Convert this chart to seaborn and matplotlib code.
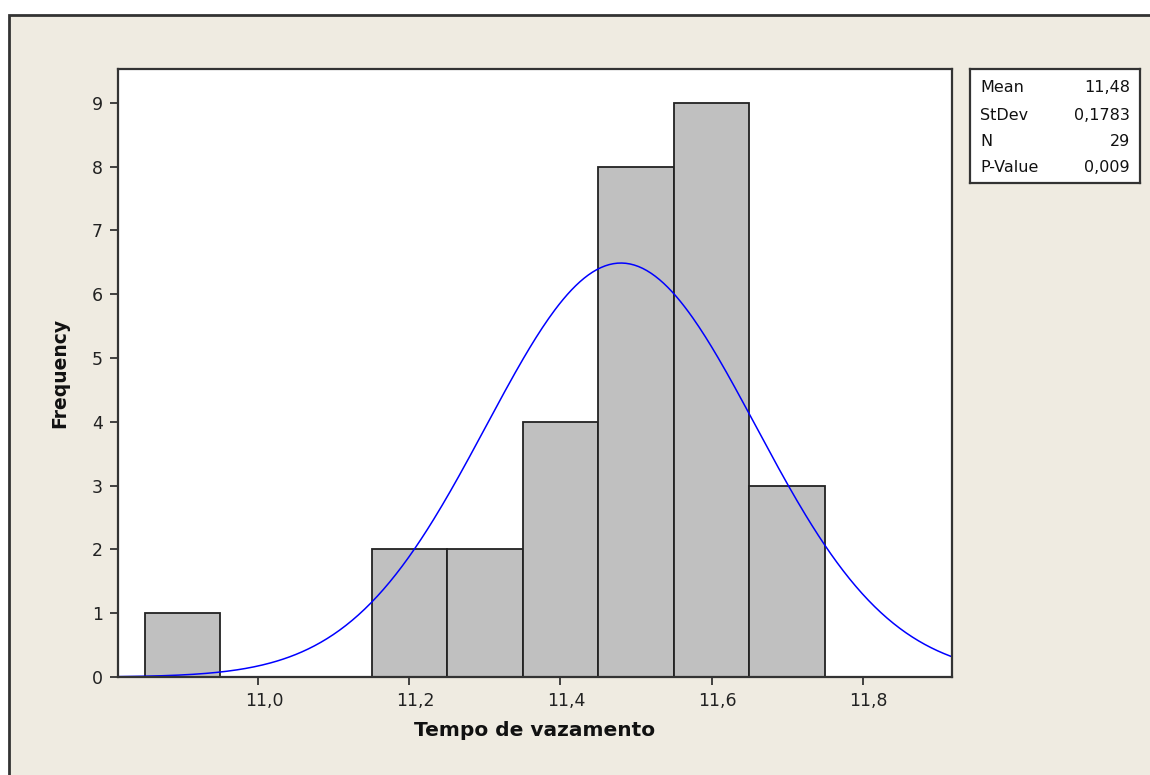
import numpy as np
import pandas as pd
import matplotlib
matplotlib.use("Agg")
import matplotlib.pyplot as plt
import matplotlib.transforms as mtransforms
import seaborn as sns
from matplotlib.patches import Rectangle

# ---- data ----
bin_centers = [10.9, 11.0, 11.1, 11.2, 11.3, 11.4, 11.5, 11.6, 11.7]
bin_counts = [1, 0, 0, 2, 2, 4, 8, 9, 3]
bin_width = 0.1
mean_val = 11.48
stdev_val = 0.1783
n_val = 29
p_value = 0.009
x_ticks = [11.0, 11.2, 11.4, 11.6, 11.8]
x_tick_labels = ["11,0", "11,2", "11,4", "11,6", "11,8"]
y_ticks = [0, 1, 2, 3, 4, 5, 6, 7, 8, 9]
stat_names = ["Mean", "StDev", "N", "P-Value"]
stat_values = ["11,48", "0,1783", "29", "0,009"]

sns.set_theme(style="white")
plt.rcParams['font.family'] = ['DejaVu Sans']

bg = "#EFEBE1"
edge = "#333333"

fig = plt.figure(figsize=(11.5, 7.75), dpi=100, facecolor="white")
# outer frame
fig.patches.append(Rectangle((9/1150, -0.05), 1.2, 1 - 15/775 + 0.05,
                             transform=fig.transFigure, facecolor=bg,
                             edgecolor=edge, linewidth=2, zorder=-10))

ax = fig.add_axes([118/1150, 1 - 677/775, (952-118)/1150, (677-69)/775])
ax.set_facecolor("white")

df = pd.DataFrame({"x": bin_centers, "w": bin_counts})
edges = [round(bin_centers[0] - bin_width/2 + i*bin_width, 4) for i in range(len(bin_centers) + 1)]
sns.histplot(data=df, x="x", weights="w", bins=edges, ax=ax,
             color="#C0C0C0", edgecolor="#222222", linewidth=1.3, alpha=1.0)

xlim = (10.8146, 11.918)
xs = np.linspace(xlim[0], xlim[1], 400)
ys = n_val * bin_width / (stdev_val * np.sqrt(2*np.pi)) * np.exp(-0.5*((xs-mean_val)/stdev_val)**2)
sns.lineplot(x=xs, y=ys, ax=ax, color="#0000FF", linewidth=1.1)

ax.set_xlim(*xlim)
ax.set_ylim(0, 9.53)
ax.set_xticks(x_ticks)
ax.set_xticklabels(x_tick_labels)
ax.set_yticks(y_ticks)
ax.tick_params(axis="both", direction="out", length=6, width=1.3, color=edge,
               labelsize=12.5, labelcolor="#222222", bottom=True, left=True, pad=5)
shift = mtransforms.ScaledTranslation(6/100, 0, fig.dpi_scale_trans)
for lbl in ax.get_xticklabels():
    lbl.set_transform(lbl.get_transform() + shift)
for s in ax.spines.values():
    s.set_color(edge)
    s.set_linewidth(1.6)
ax.set_xlabel("Tempo de vazamento", fontsize=14.5, fontweight="bold", color="#111111", labelpad=8)
ax.set_ylabel("Frequency", fontsize=13.5, fontweight="bold", color="#111111", labelpad=16)

# stats box
bx = fig.add_axes([970/1150, 1 - 183/775, 170/1150, 114/775])
bx.set_facecolor("white")
bx.set_xticks([]); bx.set_yticks([])
for s in bx.spines.values():
    s.set_color(edge)
    s.set_linewidth(1.6)
row_y = [88, 115, 141, 167]
for name, val, py in zip(stat_names, stat_values, row_y):
    yy = 1 - (py - 69) / 114
    bx.text(10/170, yy, name, transform=bx.transAxes, ha="left", va="center",
            fontsize=11.5, color="#111111")
    bx.text(160/170, yy, val, transform=bx.transAxes, ha="right", va="center",
            fontsize=11.5, color="#111111")

fig.savefig("out.png", dpi=100, facecolor=fig.get_facecolor())
